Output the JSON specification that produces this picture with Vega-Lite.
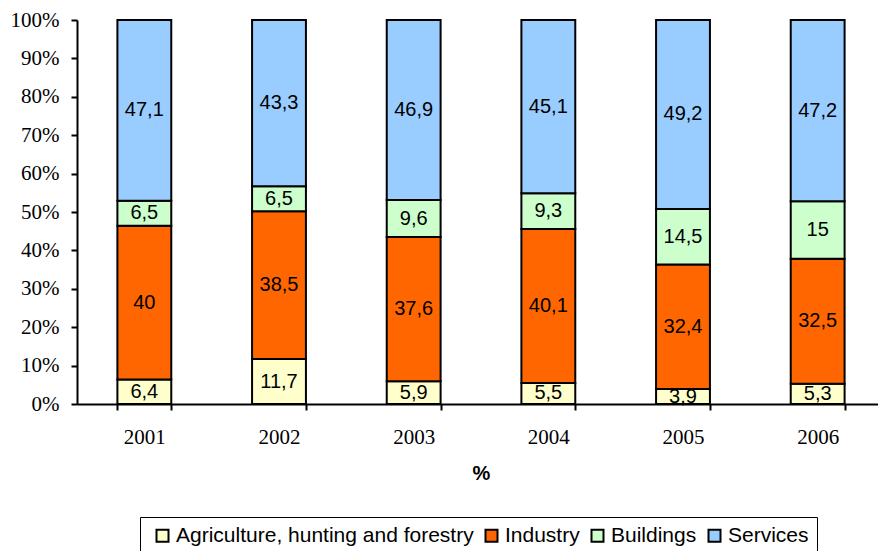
{
  "$schema": "https://vega.github.io/schema/vega-lite/v6.json",
  "autosize": "none",
  "padding": {"left": 77, "top": 20, "right": 0, "bottom": 147},
  "width": 808,
  "height": 384,
  "background": "white",
  "data": {
    "values": [
      {"year": "2001", "sector": "Agriculture, hunting and forestry", "order": 1, "value": 6.4},
      {"year": "2001", "sector": "Industry", "order": 2, "value": 40},
      {"year": "2001", "sector": "Buildings", "order": 3, "value": 6.5},
      {"year": "2001", "sector": "Services", "order": 4, "value": 47.1},
      {"year": "2002", "sector": "Agriculture, hunting and forestry", "order": 1, "value": 11.7},
      {"year": "2002", "sector": "Industry", "order": 2, "value": 38.5},
      {"year": "2002", "sector": "Buildings", "order": 3, "value": 6.5},
      {"year": "2002", "sector": "Services", "order": 4, "value": 43.3},
      {"year": "2003", "sector": "Agriculture, hunting and forestry", "order": 1, "value": 5.9},
      {"year": "2003", "sector": "Industry", "order": 2, "value": 37.6},
      {"year": "2003", "sector": "Buildings", "order": 3, "value": 9.6},
      {"year": "2003", "sector": "Services", "order": 4, "value": 46.9},
      {"year": "2004", "sector": "Agriculture, hunting and forestry", "order": 1, "value": 5.5},
      {"year": "2004", "sector": "Industry", "order": 2, "value": 40.1},
      {"year": "2004", "sector": "Buildings", "order": 3, "value": 9.3},
      {"year": "2004", "sector": "Services", "order": 4, "value": 45.1},
      {"year": "2005", "sector": "Agriculture, hunting and forestry", "order": 1, "value": 3.9},
      {"year": "2005", "sector": "Industry", "order": 2, "value": 32.4},
      {"year": "2005", "sector": "Buildings", "order": 3, "value": 14.5},
      {"year": "2005", "sector": "Services", "order": 4, "value": 49.2},
      {"year": "2006", "sector": "Agriculture, hunting and forestry", "order": 1, "value": 5.3},
      {"year": "2006", "sector": "Industry", "order": 2, "value": 32.5},
      {"year": "2006", "sector": "Buildings", "order": 3, "value": 15},
      {"year": "2006", "sector": "Services", "order": 4, "value": 47.2}
    ]
  },
  "transform": [
    {"stack": "value", "groupby": ["year"], "sort": [{"field": "order", "order": "ascending"}], "as": ["v0", "v1"], "offset": "normalize"},
    {"calculate": "(datum.v0 + datum.v1) / 2", "as": "mid"}
  ],
  "encoding": {
    "x": {
      "field": "year",
      "type": "nominal",
      "scale": {"paddingInner": 0.6, "paddingOuter": 0.3},
      "axis": {
        "title": "%",
        "labelAngle": 0,
        "tickBand": "extent",
        "tickSize": 6,
        "labelPadding": 16,
        "titlePadding": 16,
        "titleFont": "Liberation Sans",
        "titleFontSize": 20,
        "titleFontWeight": "bold",
        "titleColor": "black"
      }
    }
  },
  "layer": [
    {
      "mark": {"type": "bar", "stroke": "black", "strokeWidth": 2},
      "encoding": {
        "y": {
          "field": "v0",
          "type": "quantitative",
          "scale": {"domain": [0, 1], "nice": false},
          "axis": {
            "title": null,
            "format": ".0%",
            "values": [0, 0.1, 0.2, 0.3, 0.4, 0.5, 0.6, 0.7, 0.8, 0.9, 1],
            "labelOverlap": false,
            "tickSize": 6,
            "labelPadding": 12
          }
        },
        "y2": {"field": "v1"},
        "color": {
          "field": "sector",
          "type": "nominal",
          "scale": {
            "domain": ["Agriculture, hunting and forestry", "Industry", "Buildings", "Services"],
            "range": ["#FFFFCC", "#FF6600", "#CCFFCC", "#99CCFF"]
          },
          "legend": {
            "title": null,
            "orient": "none",
            "direction": "horizontal",
            "legendX": 63,
            "legendY": 497,
            "padding": 8,
            "symbolOffset": 4,
            "strokeColor": "black",
            "symbolType": "square",
            "symbolSize": 144,
            "symbolStrokeColor": "black",
            "symbolStrokeWidth": 2,
            "symbolOpacity": 1,
            "labelFont": "Liberation Sans",
            "labelFontSize": 21,
            "labelColor": "black",
            "labelOffset": 3,
            "labelLimit": 500,
            "columnPadding": 3
          }
        }
      }
    },
    {
      "mark": {"type": "text", "font": "Liberation Sans", "fontSize": 20, "color": "black", "baseline": "middle"},
      "encoding": {
        "y": {
          "field": "mid",
          "type": "quantitative",
          "scale": {"domain": [0, 1], "nice": false},
          "axis": {
            "title": null,
            "format": ".0%",
            "values": [0, 0.1, 0.2, 0.3, 0.4, 0.5, 0.6, 0.7, 0.8, 0.9, 1],
            "labelOverlap": false,
            "tickSize": 6,
            "labelPadding": 12
          }
        },
        "text": {"field": "value", "type": "quantitative", "format": ".3~g"}
      }
    }
  ],
  "config": {
    "locale": {
      "number": {"decimal": ",", "thousands": " ", "grouping": [3], "currency": ["", ""]}
    },
    "view": {"stroke": null},
    "axis": {
      "grid": false,
      "domainColor": "black",
      "domainWidth": 2,
      "tickColor": "black",
      "tickWidth": 2,
      "labelFont": "Liberation Serif",
      "labelFontSize": 21,
      "labelColor": "black"
    }
  }
}
